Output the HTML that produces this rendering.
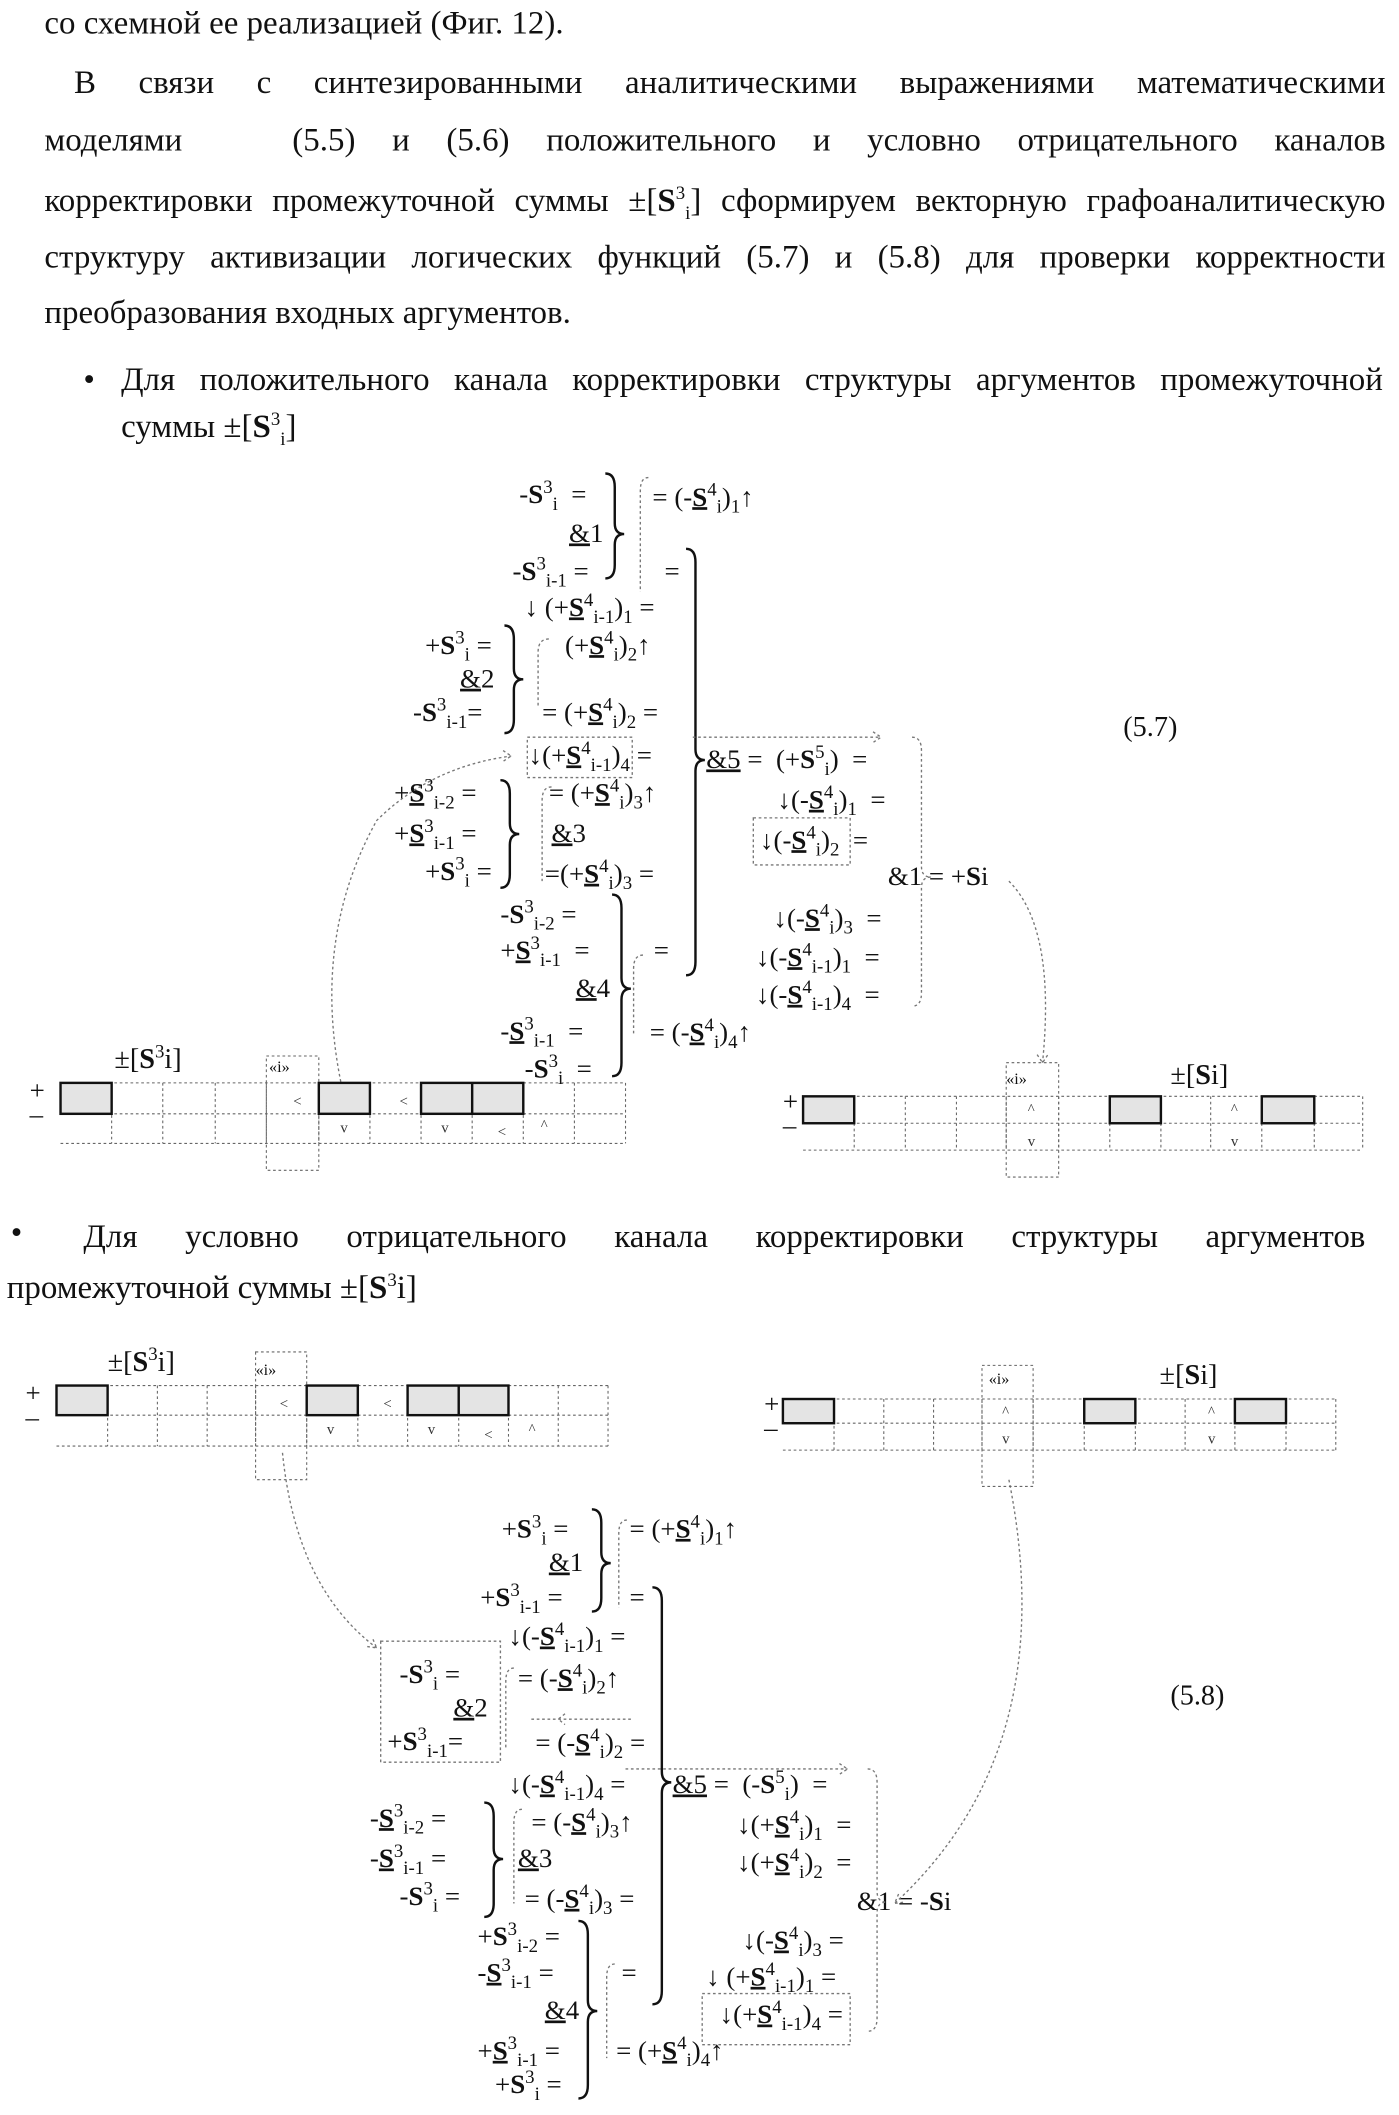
<!DOCTYPE html>
<html><head><meta charset="utf-8">
<style>
html,body{margin:0;padding:0;background:#fff;}
body{width:1399px;height:2115px;overflow:hidden;position:relative;}
#c{position:absolute;left:0;top:0;width:1040px;height:1572px;transform:scale(1.3452);transform-origin:0 0;font-family:"Liberation Serif",serif;color:#111;}
.p{position:absolute;font-size:24.5px;line-height:28px;white-space:nowrap;}
.p sup,.p sub{font-size:14px;}
.j{text-align:justify;text-align-last:justify;white-space:normal;}
.t{position:absolute;font-size:20px;line-height:22px;white-space:nowrap;}
.t b{font-weight:bold;}
sup,sub{font-size:14px;line-height:0;}
svg{position:absolute;left:0;top:0;}
</style></head><body><div id="c">
<div class="p" style="left:33px;top:4px">со схемной ее реализацией (Фиг. 12).</div>
<div class="p j" style="left:55px;top:48px;width:975px">В связи с синтезированными аналитическими выражениями математическими</div>
<div class="p j" style="left:33px;top:91px;width:997px">моделями &nbsp; (5.5) и (5.6) положительного и условно отрицательного каналов</div>
<div class="p j" style="left:33px;top:136px;width:997px">корректировки промежуточной суммы ±[<b>S</b><sup>3</sup><sub>i</sub>] сформируем векторную графоаналитическую</div>
<div class="p j" style="left:33px;top:178px;width:997px">структуру активизации логических функций (5.7) и (5.8) для проверки корректности</div>
<div class="p" style="left:33px;top:219px">преобразования входных аргументов.</div>
<div class="p" style="left:62px;top:269px">•</div>
<div class="p j" style="left:90px;top:269px;width:938px">Для положительного канала корректировки структуры аргументов промежуточной</div>
<div class="p" style="left:90px;top:304px">суммы ±[<b>S</b><sup>3</sup><sub>i</sub>]</div>

<!-- 5.7 -->
<div class="t" style="left:386px;top:357px">-<b>S</b><sup>3</sup><sub>i</sub> &nbsp;=</div>
<div class="t" style="left:485px;top:359px">= (-<b><u>S</u></b><sup>4</sup><sub>i</sub>)<sub>1</sub>↑</div>
<div class="t" style="left:423px;top:386px"><u>&amp;</u>1</div>
<div class="t" style="left:381px;top:414px">-<b>S</b><sup>3</sup><sub>i-1</sub> =</div>
<div class="t" style="left:494px;top:414px">=</div>
<div class="t" style="left:390px;top:441px">↓ (+<b><u>S</u></b><sup>4</sup><sub>i-1</sub>)<sub>1</sub> =</div>
<div class="t" style="left:316px;top:469px">+<b>S</b><sup>3</sup><sub>i</sub> =</div>
<div class="t" style="left:420px;top:469px">(+<b><u>S</u></b><sup>4</sup><sub>i</sub>)<sub>2</sub>↑</div>
<div class="t" style="left:342px;top:494px"><u>&amp;</u>2</div>
<div class="t" style="left:307px;top:519px">-<b>S</b><sup>3</sup><sub>i-1</sub>=</div>
<div class="t" style="left:403px;top:519px">= (+<b><u>S</u></b><sup>4</sup><sub>i</sub>)<sub>2</sub> =</div>
<div class="t" style="left:393px;top:551px">↓(+<b><u>S</u></b><sup>4</sup><sub>i-1</sub>)<sub>4</sub> =</div>
<div class="t" style="left:525px;top:554px"><u>&amp;5</u> = &nbsp;(+<b>S</b><sup>5</sup><sub>i</sub>) &nbsp;=</div>
<div class="t" style="left:293px;top:579px">+<b><u>S</u></b><sup>3</sup><sub>i-2</sub> =</div>
<div class="t" style="left:408px;top:579px">= (+<b><u>S</u></b><sup>4</sup><sub>i</sub>)<sub>3</sub>↑</div>
<div class="t" style="left:293px;top:609px">+<b><u>S</u></b><sup>3</sup><sub>i-1</sub> =</div>
<div class="t" style="left:410px;top:609px"><u>&amp;</u>3</div>
<div class="t" style="left:316px;top:637px">+<b>S</b><sup>3</sup><sub>i</sub> =</div>
<div class="t" style="left:405px;top:639px">=(+<b><u>S</u></b><sup>4</sup><sub>i</sub>)<sub>3</sub> =</div>
<div class="t" style="left:578px;top:584px">↓(-<b><u>S</u></b><sup>4</sup><sub>i</sub>)<sub>1</sub> &nbsp;=</div>
<div class="t" style="left:565px;top:614px">↓(-<b><u>S</u></b><sup>4</sup><sub>i</sub>)<sub>2</sub> &nbsp;=</div>
<div class="t" style="left:660px;top:641px">&amp;1 = +<b>S</b>i</div>
<div class="t" style="left:575px;top:672px">↓(-<b><u>S</u></b><sup>4</sup><sub>i</sub>)<sub>3</sub> &nbsp;=</div>
<div class="t" style="left:562px;top:701px">↓(-<b><u>S</u></b><sup>4</sup><sub>i-1</sub>)<sub>1</sub> &nbsp;=</div>
<div class="t" style="left:562px;top:729px">↓(-<b><u>S</u></b><sup>4</sup><sub>i-1</sub>)<sub>4</sub> &nbsp;=</div>
<div class="p" style="left:835px;top:526px;font-size:21px">(5.7)</div>
<div class="t" style="left:372px;top:669px">-<b>S</b><sup>3</sup><sub>i-2</sub> =</div>
<div class="t" style="left:372px;top:696px">+<b><u>S</u></b><sup>3</sup><sub>i-1</sub> &nbsp;=</div>
<div class="t" style="left:486px;top:696px">=</div>
<div class="t" style="left:428px;top:724px"><u>&amp;</u>4</div>
<div class="t" style="left:372px;top:756px">-<b><u>S</u></b><sup>3</sup><sub>i-1</sub> &nbsp;=</div>
<div class="t" style="left:483px;top:757px">= (-<b><u>S</u></b><sup>4</sup><sub>i</sub>)<sub>4</sub>↑</div>
<div class="t" style="left:390px;top:784px">-<b>S</b><sup>3</sup><sub>i</sub> &nbsp;=</div>
<div class="t" style="left:85px;top:776px;font-size:21px">±[<b>S</b><sup>3</sup>i]</div>
<div class="t" style="left:200px;top:782px;font-size:12px">«i»</div>
<div class="t" style="left:22px;top:800px">+</div><div class="t" style="left:22px;top:818px">–</div>
<div class="t" style="left:748px;top:791px;font-size:12px">«i»</div>
<div class="t" style="left:870px;top:788px;font-size:21px">±[<b>S</b>i]</div>
<div class="t" style="left:582px;top:808px">+</div><div class="t" style="left:582px;top:826px">–</div>

<div class="p" style="left:8px;top:903px">•</div>
<div class="p j" style="left:62px;top:906px;width:953px">Для условно отрицательного канала корректировки структуры аргументов</div>
<div class="p" style="left:5px;top:944px">промежуточной суммы ±[<b>S</b><sup>3</sup>i]</div>

<!-- 5.8 -->
<div class="t" style="left:80px;top:1001px;font-size:21px">±[<b>S</b><sup>3</sup>i]</div>
<div class="t" style="left:190px;top:1007px;font-size:12px">«i»</div>
<div class="t" style="left:19px;top:1025px">+</div><div class="t" style="left:19px;top:1043px">–</div>
<div class="t" style="left:735px;top:1014px;font-size:12px">«i»</div>
<div class="t" style="left:862px;top:1011px;font-size:21px">±[<b>S</b>i]</div>
<div class="t" style="left:568px;top:1033px">+</div><div class="t" style="left:568px;top:1051px">–</div>

<div class="t" style="left:373px;top:1126px">+<b>S</b><sup>3</sup><sub>i</sub> =</div>
<div class="t" style="left:468px;top:1126px">= (+<b><u>S</u></b><sup>4</sup><sub>i</sub>)<sub>1</sub>↑</div>
<div class="t" style="left:408px;top:1151px"><u>&amp;</u>1</div>
<div class="t" style="left:357px;top:1177px">+<b>S</b><sup>3</sup><sub>i-1</sub> =</div>
<div class="t" style="left:468px;top:1177px">=</div>
<div class="t" style="left:378px;top:1206px">↓(-<b><u>S</u></b><sup>4</sup><sub>i-1</sub>)<sub>1</sub> =</div>
<div class="t" style="left:297px;top:1234px">-<b>S</b><sup>3</sup><sub>i</sub> =</div>
<div class="t" style="left:385px;top:1237px">= (-<b><u>S</u></b><sup>4</sup><sub>i</sub>)<sub>2</sub>↑</div>
<div class="t" style="left:337px;top:1259px"><u>&amp;</u>2</div>
<div class="t" style="left:288px;top:1284px">+<b>S</b><sup>3</sup><sub>i-1</sub>=</div>
<div class="t" style="left:398px;top:1285px">= (-<b><u>S</u></b><sup>4</sup><sub>i</sub>)<sub>2</sub> =</div>
<div class="t" style="left:378px;top:1316px">↓(-<b><u>S</u></b><sup>4</sup><sub>i-1</sub>)<sub>4</sub> =</div>
<div class="t" style="left:500px;top:1316px"><u>&amp;5</u> = &nbsp;(-<b>S</b><sup>5</sup><sub>i</sub>) &nbsp;=</div>
<div class="t" style="left:275px;top:1341px">-<b><u>S</u></b><sup>3</sup><sub>i-2</sub> =</div>
<div class="t" style="left:395px;top:1344px">= (-<b><u>S</u></b><sup>4</sup><sub>i</sub>)<sub>3</sub>↑</div>
<div class="t" style="left:275px;top:1371px">-<b><u>S</u></b><sup>3</sup><sub>i-1</sub> =</div>
<div class="t" style="left:385px;top:1371px"><u>&amp;</u>3</div>
<div class="t" style="left:297px;top:1399px">-<b>S</b><sup>3</sup><sub>i</sub> =</div>
<div class="t" style="left:390px;top:1401px">= (-<b><u>S</u></b><sup>4</sup><sub>i</sub>)<sub>3</sub> =</div>
<div class="t" style="left:548px;top:1346px">↓(+<b><u>S</u></b><sup>4</sup><sub>i</sub>)<sub>1</sub> &nbsp;=</div>
<div class="t" style="left:548px;top:1374px">↓(+<b><u>S</u></b><sup>4</sup><sub>i</sub>)<sub>2</sub> &nbsp;=</div>
<div class="t" style="left:637px;top:1403px">&amp;1 = -<b>S</b>i</div>
<div class="t" style="left:552px;top:1432px">↓(-<b><u>S</u></b><sup>4</sup><sub>i</sub>)<sub>3</sub> =</div>
<div class="t" style="left:525px;top:1459px">↓ (+<b><u>S</u></b><sup>4</sup><sub>i-1</sub>)<sub>1</sub> =</div>
<div class="t" style="left:535px;top:1487px">↓(+<b><u>S</u></b><sup>4</sup><sub>i-1</sub>)<sub>4</sub> =</div>
<div class="p" style="left:870px;top:1246px;font-size:21px">(5.8)</div>
<div class="t" style="left:355px;top:1429px">+<b>S</b><sup>3</sup><sub>i-2</sub> =</div>
<div class="t" style="left:355px;top:1456px">-<b><u>S</u></b><sup>3</sup><sub>i-1</sub> =</div>
<div class="t" style="left:462px;top:1456px">=</div>
<div class="t" style="left:405px;top:1484px"><u>&amp;</u>4</div>
<div class="t" style="left:355px;top:1514px">+<b><u>S</u></b><sup>3</sup><sub>i-1</sub> =</div>
<div class="t" style="left:458px;top:1514px">= (+<b><u>S</u></b><sup>4</sup><sub>i</sub>)<sub>4</sub>↑</div>
<div class="t" style="left:368px;top:1539px">+<b>S</b><sup>3</sup><sub>i</sub> =</div>

<svg width="1040" height="1572" viewBox="0 0 1040 1572">
<g fill="none" stroke="#111" stroke-width="1.8">
<path d="M450 352 Q457 352 457 362 L457 389 Q457 397 464 397 Q457 397 457 405 L457 420 Q457 430 450 430"/>
<path d="M510 408 Q517 408 517 418 L517 557 Q517 565 524 565 Q517 565 517 573 L517 715 Q517 725 510 725"/>
<path d="M375 465 Q382 465 382 475 L382 497 Q382 505 389 505 Q382 505 382 513 L382 535 Q382 545 375 545"/>
<path d="M372 580 Q379 580 379 590 L379 612 Q379 620 386 620 Q379 620 379 628 L379 650 Q379 660 372 660"/>
<path d="M455 665 Q462 665 462 675 L462 727 Q462 735 469 735 Q462 735 462 743 L462 790 Q462 800 455 800"/>
<path d="M440 1122 Q447 1122 447 1132 L447 1154 Q447 1162 454 1162 Q447 1162 447 1170 L447 1188 Q447 1198 440 1198"/>
<path d="M485 1180 Q492 1180 492 1190 L492 1317 Q492 1325 499 1325 Q492 1325 492 1333 L492 1480 Q492 1490 485 1490"/>
<path d="M360 1340 Q367 1340 367 1350 L367 1374 Q367 1382 374 1382 Q367 1382 367 1390 L367 1415 Q367 1425 360 1425"/>
<path d="M430 1428 Q437 1428 437 1438 L437 1487 Q437 1495 444 1495 Q437 1495 437 1503 L437 1550 Q437 1560 430 1560"/>
</g>
<g fill="none" stroke="#777" stroke-width="1" stroke-dasharray="2 2">
<path d="M678 548 Q685 548 685 558 L685 644 Q685 652 692 652 Q685 652 685 660 L685 738 Q685 748 678 748"/>
<path d="M645 1315 Q652 1315 652 1325 L652 1406 Q652 1414 659 1414 Q652 1414 652 1422 L652 1500 Q652 1510 645 1510"/>
<path d="M482 355 Q476 355 476 365 L476 440"/>
<path d="M408 475 Q400 475 400 485 L400 525"/>
<path d="M410 585 Q403 585 403 595 L403 655"/>
<path d="M478 710 Q471 710 471 720 L471 770"/>
<path d="M466 1130 Q460 1130 460 1140 L460 1195"/>
<path d="M382 1240 Q376 1240 376 1250 L376 1300"/>
<path d="M388 1345 Q382 1345 382 1355 L382 1415"/>
<path d="M457 1460 Q451 1460 451 1470 L451 1530"/>
<rect x="392" y="548" width="78" height="30"/>
<rect x="560" y="608" width="72" height="35"/>
<rect x="283" y="1220" width="89" height="90"/>
<rect x="522" y="1482" width="110" height="38"/>
<path d="M515 548 L655 548 M649 544 L655 548 L649 552"/>
<path d="M255 812 Q230 700 280 610 Q320 570 380 562 M374 558 L380 562 L374 566"/>
<path d="M750 655 Q785 690 775 790 M771 784 L775 790 L779 784"/>
<path d="M210 1080 Q220 1180 280 1225 M273 1224 L280 1225 L277 1218"/>
<path d="M750 1100 Q790 1300 665 1415 M668 1408 L665 1415 L672 1414"/>
<path d="M395 1278 L470 1278 M420 1274 L415 1278 L420 1282"/>
<path d="M465 1315 L630 1315 M624 1311 L630 1315 L624 1319"/>
</g>
<g fill="none" stroke="#666" stroke-width="0.8" stroke-dasharray="2 2">
<path d="M45 805H465M45 828H465M45 850H465 M83 805V850M121 805V850M160 805V850M198 805V850M237 805V850M275 805V850M313 805V850M351 805V850M389 805V850M427 805V850M465 805V850"/>
<rect x="198" y="785" width="39" height="85"/>
<path d="M597 815H1013M597 835H1013M597 855H1013 M635 815V855M673 815V855M711 815V855M748 815V855M787 815V855M825 815V855M863 815V855M900 815V855M938 815V855M977 815V855M1013 815V855"/>
<rect x="748" y="790" width="39" height="85"/>
<path d="M42 1030H452M42 1052H452M42 1075H452 M80 1030V1075M117 1030V1075M154 1030V1075M190 1030V1075M228 1030V1075M266 1030V1075M303 1030V1075M341 1030V1075M378 1030V1075M415 1030V1075M452 1030V1075"/>
<rect x="190" y="1005" width="38" height="95"/>
<path d="M582 1040H993M582 1058H993M582 1078H993 M620 1040V1078M657 1040V1078M694 1040V1078M730 1040V1078M768 1040V1078M806 1040V1078M844 1040V1078M881 1040V1078M918 1040V1078M956 1040V1078M993 1040V1078"/>
<rect x="730" y="1015" width="38" height="90"/>
</g>
<g fill="#e4e4e4" stroke="#111" stroke-width="1.8">
<rect x="45" y="805" width="38" height="23"/>
<rect x="237" y="805" width="38" height="23"/>
<rect x="313" y="805" width="76" height="23"/><line x1="351" y1="805" x2="351" y2="828"/>
<rect x="597" y="815" width="38" height="20"/>
<rect x="825" y="815" width="38" height="20"/>
<rect x="938" y="815" width="39" height="20"/>
<rect x="42" y="1030" width="38" height="22"/>
<rect x="228" y="1030" width="38" height="22"/>
<rect x="303" y="1030" width="75" height="22"/><line x1="341" y1="1030" x2="341" y2="1052"/>
<rect x="582" y="1040" width="38" height="18"/>
<rect x="806" y="1040" width="38" height="18"/>
<rect x="918" y="1040" width="38" height="18"/>
</g>
<g font-family="Liberation Serif" font-size="11" fill="#333">
<text x="218" y="822">&lt;</text><text x="297" y="822">&lt;</text><text x="370" y="845">&lt;</text>
<text x="253" y="842">v</text><text x="328" y="842">v</text><text x="402" y="840">^</text>
<text x="764" y="828">^</text><text x="764" y="852">v</text><text x="915" y="828">^</text><text x="915" y="852">v</text>
<text x="208" y="1047">&lt;</text><text x="285" y="1047">&lt;</text><text x="360" y="1070">&lt;</text>
<text x="243" y="1066">v</text><text x="318" y="1066">v</text><text x="393" y="1066">^</text>
<text x="745" y="1053">^</text><text x="745" y="1073">v</text><text x="898" y="1053">^</text><text x="898" y="1073">v</text>
</g>
</svg>
</div></body></html>
